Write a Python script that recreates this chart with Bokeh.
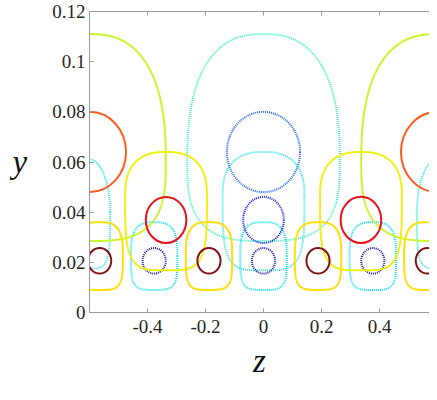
import numpy as np
from bokeh.plotting import figure
from bokeh.models import LinearAxis, FixedTicker, Range1d
from bokeh.embed import file_html
from bokeh.resources import INLINE

# ---------------- axis ticks ----------------
x_ticks = [-0.4, -0.2, 0.0, 0.2, 0.4]
x_tick_labels = ["-0.4", "-0.2", "0", "0.2", "0.4"]
y_ticks = [0.0, 0.02, 0.04, 0.06, 0.08, 0.10, 0.12]
y_tick_labels = ["0", "0.02", "0.04", "0.06", "0.08", "0.1", "0.12"]

# ---------------- closed dome-shaped contours ----------------
# centres (z) of each family
large_solid_z = [-0.6, 0.6]
large_dotted_z = [0.0]
medium_solid_z = [-0.336, 0.336]
medium_dotted_z = [0.0]
tall_dotted_z = [-0.6, 0.6]
small_solid_z = [-0.565, -0.188, 0.188, 0.565]
small_dotted_z = [-0.377, 0.0, 0.377]

# shape of each family: half-width, bottom y, widest y, top y, top/bottom squareness
large_shape = [0.263, 0.0285, 0.060, 0.111, 2.5, 3.0]
medium_shape = [0.141, 0.0168, 0.0467, 0.064, 2.5, 4.0]
tall_shape = [0.071, 0.0175, 0.040, 0.061, 2.0, 4.0]
small_shape = [0.080, 0.009, 0.0226, 0.036, 3.0, 4.0]

# ---------------- elliptic contours ----------------
big_ring_solid_z = [-0.6, 0.6]
big_ring_dotted_z = [0.0]
big_ring = [0.064, 0.126, 0.016]        # centre y, half-width z, half-height y
mid_ring_solid_z = [-0.336, 0.336]
mid_ring_dotted_z = [0.0]
mid_ring = [0.0369, 0.070, 0.0092]
small_ring_solid_z = [-0.565, -0.188, 0.188, 0.565]
small_ring_dotted_z = [-0.377, 0.0, 0.377]
small_ring = [0.0206, 0.040, 0.0051]


def dome(zc, shape, m=240):
    a, yb, ym, yt, nt, nb = shape
    t = np.linspace(0, 2 * np.pi, 4 * m + 1)
    c, s = np.cos(t), np.sin(t)
    top = s >= 0
    n = np.where(top, nt, nb)
    b = np.where(top, yt - ym, ym - yb)
    z = zc + a * np.sign(c) * np.abs(c) ** (2.0 / n)
    y = ym + b * np.sign(s) * np.abs(s) ** (2.0 / n)
    return list(z), list(y)


def domes(centres, shape):
    xs, ys = [], []
    for zc in centres:
        z, y = dome(zc, shape)
        xs.append(z)
        ys.append(y)
    return xs, ys


X0, X1 = -0.6, 0.5724
p = figure(width=429, height=384, output_backend="svg", toolbar_location=None,
           x_range=Range1d(X0, X1), y_range=Range1d(0, 0.12),
           min_border_left=89, min_border_right=0, min_border_top=11,
           min_border_bottom=72, outline_line_color=None,
           background_fill_color="white", border_fill_color="white")
p.grid.visible = False

SOLID_W = 2.0
DOT_W = 2.0
DOT = "1 1"

# dotted families
xs, ys = domes(large_dotted_z, large_shape)
p.multi_line(xs, ys, line_color="#40F0C4", line_width=DOT_W, line_dash=DOT)
xs, ys = domes(medium_dotted_z, medium_shape)
p.multi_line(xs, ys, line_color="#30E6E2", line_width=DOT_W, line_dash=DOT)
xs, ys = domes(tall_dotted_z, tall_shape)
p.multi_line(xs, ys, line_color="#30E6E2", line_width=DOT_W, line_dash=DOT)
xs, ys = domes(small_dotted_z, small_shape)
p.multi_line(xs, ys, line_color="#10DEF5", line_width=DOT_W, line_dash=DOT)

p.ellipse(x=big_ring_dotted_z, y=[big_ring[0]] * len(big_ring_dotted_z),
          width=2 * big_ring[1], height=2 * big_ring[2], fill_color=None,
          line_color="#2468F5", line_width=DOT_W, line_dash=DOT)
p.ellipse(x=mid_ring_dotted_z, y=[mid_ring[0]] * len(mid_ring_dotted_z),
          width=2 * mid_ring[1], height=2 * mid_ring[2], fill_color=None,
          line_color="#1420E6", line_width=DOT_W, line_dash=DOT)
p.ellipse(x=small_ring_dotted_z, y=[small_ring[0]] * len(small_ring_dotted_z),
          width=2 * small_ring[1], height=2 * small_ring[2], fill_color=None,
          line_color="#1C1C96", line_width=DOT_W, line_dash=DOT)

# solid families
xs, ys = domes(large_solid_z, large_shape)
p.multi_line(xs, ys, line_color="#C8F52D", line_width=SOLID_W)
xs, ys = domes(medium_solid_z, medium_shape)
p.multi_line(xs, ys, line_color="#F0F014", line_width=SOLID_W)
xs, ys = domes(small_solid_z, small_shape)
p.multi_line(xs, ys, line_color="#FFDE0A", line_width=SOLID_W)

p.ellipse(x=big_ring_solid_z, y=[big_ring[0]] * len(big_ring_solid_z),
          width=2 * big_ring[1], height=2 * big_ring[2], fill_color=None,
          line_color="#FF5A1E", line_width=SOLID_W)
p.ellipse(x=mid_ring_solid_z, y=[mid_ring[0]] * len(mid_ring_solid_z),
          width=2 * mid_ring[1], height=2 * mid_ring[2], fill_color=None,
          line_color="#E6141E", line_width=SOLID_W)
p.ellipse(x=small_ring_solid_z, y=[small_ring[0]] * len(small_ring_solid_z),
          width=2 * small_ring[1], height=2 * small_ring[2], fill_color=None,
          line_color="#821419", line_width=SOLID_W)

# ---------------- axes ----------------
AX_COL = "#9a9a9a"
TXT_COL = "#262626"
FONT = "Liberation Serif"

xa = p.xaxis[0]
xa.ticker = FixedTicker(ticks=x_ticks)
xa.major_label_overrides = dict(zip(x_ticks, x_tick_labels))
ya = p.yaxis[0]
ya.ticker = FixedTicker(ticks=y_ticks)
ya.major_label_overrides = dict(zip(y_ticks, y_tick_labels))

for ax in (xa, ya):
    ax.axis_line_color = AX_COL
    ax.major_tick_line_color = AX_COL
    ax.major_tick_in = 4
    ax.major_tick_out = 0
    ax.minor_tick_line_color = None
    ax.major_label_text_font = FONT
    ax.major_label_text_font_size = "19px"
    ax.major_label_text_color = TXT_COL
    ax.axis_label_text_font = FONT
    ax.axis_label_text_font_style = "italic"
    ax.axis_label_text_font_size = "33px"
    ax.axis_label_text_color = "#111111"
xa.major_label_standoff = 7
ya.major_label_standoff = 4

xa.axis_label = "z"
xa.axis_label_standoff = 7

ya.axis_label = "y"
ya.axis_label_orientation = "horizontal"
ya.axis_label_standoff = 22

top = LinearAxis(ticker=FixedTicker(ticks=x_ticks), axis_line_color=AX_COL,
                 major_tick_line_color=AX_COL, major_tick_in=4, major_tick_out=0,
                 minor_tick_line_color=None, major_label_text_font_size="0px",
                 major_label_text_color=None, major_label_standoff=0)
p.add_layout(top, "above")

open("out.html", "w").write(file_html(p, INLINE))
